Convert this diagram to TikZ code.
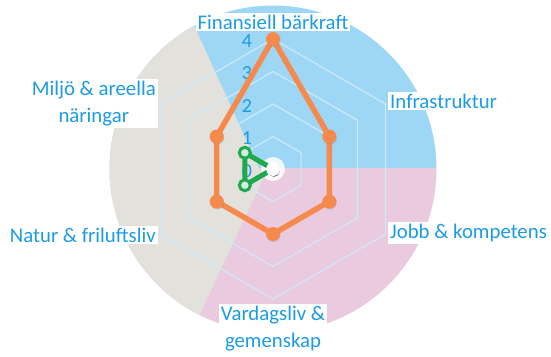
\documentclass[tikz,border=0pt]{standalone}
\usepackage{fontspec}
\setmainfont{Carlito}
\usetikzlibrary{shadows}
\definecolor{skyback}{RGB}{158,214,245}
\definecolor{greyback}{RGB}{227,225,219}
\definecolor{pinkback}{RGB}{233,202,222}
\definecolor{gridblue}{RGB}{205,234,250}
\definecolor{labelblue}{RGB}{28,156,230}
\definecolor{finorange}{RGB}{246,137,76}
\definecolor{mungreen}{RGB}{32,168,78}
\tikzset{
  axislabel/.style={fill=white, text=labelblue, inner sep=2pt, font=\fontsize{20.8}{27}\selectfont, align=center},
  valuelabel/.style={text=labelblue, inner sep=0pt, font=\fontsize{20}{20}\selectfont},
  orangedot/.style={circle, fill=finorange, inner sep=0pt, minimum size=14pt,
    drop shadow={opacity=0.3, shadow xshift=0.6pt, shadow yshift=-1pt}},
  greendot/.style={circle, draw=mungreen, line width=3pt, fill=white!80!mungreen, inner sep=0pt, minimum size=11pt}
}
\begin{document}
\begin{tikzpicture}[x=1pt,y=1pt]
\useasboundingbox (-273,-187) rectangle (278,169);
\coordinate (c) at (0,0);
\begin{scope}
\clip (c) circle[radius=163.5];
\fill[skyback] (-170,1) rectangle (170,170);
\fill[pinkback] (-170,-170) rectangle (170,1);
\fill[greyback] (-9.5,-9) -- (-99.5,189) -- (-170,189) -- (-170,-191) -- (-94.5,-191) -- cycle;
\end{scope}
\foreach \r in {1,...,4} {
\draw[gridblue, line width=1.2pt] (90:\r*32.5) \foreach \a in {30,-30,-90,210,150} { -- (\a:\r*32.5) } -- cycle;
}
\foreach \r in {0,...,4} {
\node[valuelabel] (v\r) at (-26,\r*32.5-2) {\r};
}
\foreach \a/\v/\n in {90/4/fin,30/2/inf,-30/2/job,-90/2/var,210/2/nat,150/2/mil} {
\coordinate (o\n) at (\a:\v*32.5);
}
\foreach \a/\v/\n in {90/0/fin,30/0/inf,-30/0/job,-90/0/var,210/1/nat,150/1/mil} {
\coordinate (g\n) at (\a:\v*32.5);
}
\draw[finorange, line width=5.5pt, line join=round] (ofin) -- (oinf) -- (ojob) -- (ovar) -- (onat) -- (omil) -- cycle;
\foreach \n in {fin,inf,job,var,nat,mil} {
\node[orangedot] (od\n) at (o\n) {};
}
\fill[white, opacity=0.85] (c) circle[radius=12];
\draw[mungreen, line width=5pt, line join=round] (gfin) -- (gmil) -- (gnat) -- cycle;
\node[greendot] (gdmil) at (gmil) {};
\node[greendot] (gdnat) at (gnat) {};
\node[greendot, draw=white, fill=white, drop shadow={opacity=0.9, shadow xshift=1pt, shadow yshift=-2.5pt}] (gdc) at (gfin) {};
\node[axislabel] (fin) at (0,147) {Finansiell bärkraft};
\node[axislabel, anchor=west] (inf) at (115,68) {Infrastruktur};
\node[axislabel, anchor=west] (job) at (115,-64) {Jobb \& kompetens};
\node[axislabel] (var) at (0,-159.5) {Vardagsliv \&\\gemenskap};
\node[axislabel, anchor=east] (mil) at (-115,65.5) {Miljö \& areella\\näringar};
\node[axislabel, anchor=east] (nat) at (-115,-66) {Natur \& friluftsliv};
\end{tikzpicture}
\end{document}
